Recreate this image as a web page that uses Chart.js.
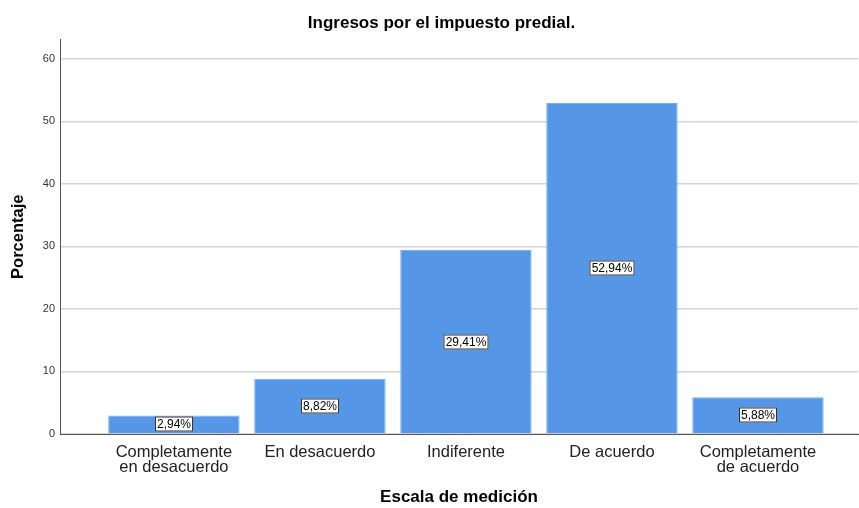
<!DOCTYPE html>
<html>
<head>
<meta charset="utf-8">
<script src="https://cdn.jsdelivr.net/npm/chart.js@4"></script>
<style>
  body { margin: 0; background: #fff; }
</style>
</head>
<body>
<canvas id="BarChart" width="859" height="508"></canvas>
<script>
const categories = [
  ["Completamente", "en desacuerdo"],
  "En desacuerdo",
  "Indiferente",
  "De acuerdo",
  ["Completamente", "de acuerdo"]
];
const percentages = [2.94, 8.82, 29.41, 52.94, 5.88];
const pctLabels = ["2,94%", "8,82%", "29,41%", "52,94%", "5,88%"];

const FONT = "Arial, 'Liberation Sans', sans-serif";

// draws the boxed percentage in the middle of each bar
const boxLabels = {
  id: 'boxLabels',
  afterDatasetsDraw(chart) {
    const ctx = chart.ctx;
    const meta = chart.getDatasetMeta(0);
    ctx.save();
    ctx.font = '12px ' + FONT;
    ctx.textAlign = 'center';
    ctx.textBaseline = 'middle';
    meta.data.forEach((bar, i) => {
      const txt = pctLabels[i];
      const cx = Math.round(bar.x);
      const cy = Math.round((bar.y + bar.base) / 2);
      const w = Math.round(ctx.measureText(txt).width) + 4;
      const h = 15;
      ctx.fillStyle = '#fff';
      ctx.fillRect(cx - w / 2, cy - h / 2, w, h);
      ctx.strokeStyle = '#333';
      ctx.lineWidth = 1;
      ctx.strokeRect(cx - w / 2 + 0.5, cy - h / 2 + 0.5, w - 1, h - 1);
      ctx.fillStyle = '#000';
      ctx.fillText(txt, cx, cy + 1);
    });
    ctx.restore();
  }
};

const ctx = document.getElementById('BarChart').getContext('2d');
const chart = new Chart(ctx, {
  type: 'bar',
  data: {
    datasets: [{
      data: percentages.map((v, i) => ({ x: i, y: v })),
      backgroundColor: '#5596e6',
      borderColor: '#7aaef0',
      borderWidth: 1,
      barPercentage: 1,
      categoryPercentage: 0.9
    }]
  },
  options: {
    responsive: false,
    animation: false,
    // left padding pushes the main title to the right, y axis is narrowed to keep the plot at x=60
    layout: { padding: { left: 25, right: 1, top: 0, bottom: 0 } },
    plugins: {
      legend: { display: false },
      tooltip: { enabled: false },
      title: {
        display: true,
        text: 'Ingresos por el impuesto predial.',
        color: '#000',
        font: { family: FONT, size: 17, weight: 'bold' },
        padding: { top: 13, bottom: 6 }
      }
    },
    scales: {
      x: {
        type: 'linear',
        offset: false,
        min: -0.78,
        max: 4.685,
        afterBuildTicks: (scale) => {
          scale.ticks = categories.map((c, i) => ({ value: i }));
        },
        afterFit: (scale) => { scale.height = 74; },
        grid: { display: false, drawTicks: false, offset: false },
        border: { display: true, color: '#555', width: 1 },
        ticks: {
          autoSkip: false,
          maxRotation: 0,
          padding: 11,
          color: '#222',
          font: { family: FONT, size: 16.5, lineHeight: 0.92 },
          callback: (v) => categories[v]
        },
        title: {
          display: true,
          text: 'Escala de medición',
          color: '#000',
          font: { family: FONT, size: 17, weight: 'bold' },
          padding: { top: 0, bottom: 0 }
        }
      },
      y: {
        min: 0,
        max: 63.1,
        afterFit: (scale) => { scale.width = 35; },
        grid: { color: '#d4d4d4', lineWidth: 1.5, drawTicks: false },
        border: { display: true, color: '#555', width: 1 },
        ticks: {
          stepSize: 10,
          includeBounds: false,
          padding: 5,
          color: '#333',
          font: { family: FONT, size: 11 }
        },
        title: {
          display: true,
          text: 'Porcentaje',
          color: '#000',
          font: { family: FONT, size: 16.5, weight: 'bold' },
          padding: { top: -16, bottom: 0 }
        }
      }
    }
  },
  plugins: [boxLabels]
});
</script>
</body>
</html>
